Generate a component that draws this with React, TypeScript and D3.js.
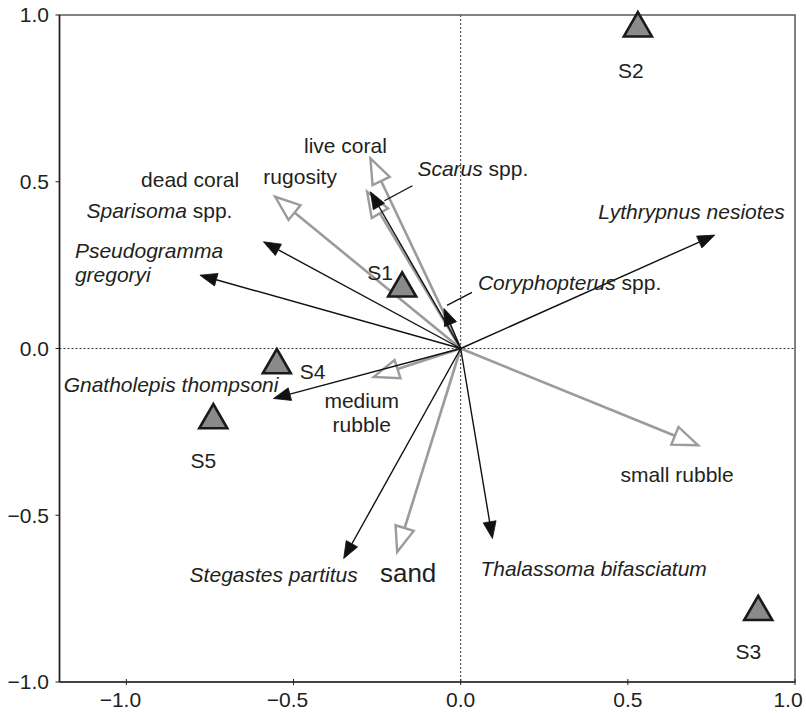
import React from "react";
import * as d3 from "d3";

// ---- data ----
const xTicks = [-1.0, -0.5, 0.0, 0.5, 1.0];
const yTicks = [-1.0, -0.5, 0.0, 0.5, 1.0];

const siteNames = ["S1", "S2", "S3", "S4", "S5"];
const siteX = [-0.175, 0.53, 0.89, -0.55, -0.74];
const siteY = [0.18, 0.96, -0.79, -0.05, -0.215];

const envNames = ["live coral", "dead coral", "rugosity", "medium rubble", "small rubble", "sand"];
const envX = [-0.27, -0.28, -0.555, -0.26, 0.71, -0.19];
const envY = [0.57, 0.47, 0.455, -0.085, -0.29, -0.61];

const spNames = [
  "Scarus spp.",
  "Sparisoma spp.",
  "Pseudogramma gregoryi",
  "Coryphopterus spp.",
  "Lythrypnus nesiotes",
  "Gnatholepis thompsoni",
  "Stegastes partitus",
  "Thalassoma bifasciatum",
];
const spX = [-0.27, -0.59, -0.78, -0.05, 0.76, -0.56, -0.35, 0.095];
const spY = [0.47, 0.32, 0.22, 0.12, 0.34, -0.15, -0.63, -0.57];

// ---- label layout (pixel offsets from the mark) ----
type Part = { t: string; i?: boolean };
type Lab = { lines: Part[][]; anchor: string; dx: number; dy: number; size?: number };

const envLabels: Lab[] = [
  { lines: [[{ t: "live coral" }]], anchor: "middle", dx: -25, dy: -5 },
  { lines: [[{ t: "dead coral" }]], anchor: "middle", dx: -177, dy: -5 },
  { lines: [[{ t: "rugosity" }]], anchor: "middle", dx: 25, dy: -13 },
  { lines: [[{ t: "medium" }], [{ t: "rubble" }]], anchor: "middle", dx: -12, dy: 31 },
  { lines: [[{ t: "small rubble" }]], anchor: "middle", dx: -21, dy: 37 },
  { lines: [[{ t: "sand" }]], anchor: "middle", dx: 11, dy: 30, size: 26 },
];

const spLabels: Lab[] = [
  { lines: [[{ t: "Scarus", i: true }, { t: " spp." }]], anchor: "start", dx: 47, dy: -16 },
  { lines: [[{ t: "Sparisoma", i: true }, { t: " spp." }]], anchor: "end", dx: -31, dy: -24 },
  { lines: [[{ t: "Pseudogramma", i: true }], [{ t: "gregoryi", i: true }]], anchor: "start", dx: -125, dy: -17 },
  { lines: [[{ t: "Coryphopterus", i: true }, { t: " spp." }]], anchor: "start", dx: 34, dy: -18 },
  { lines: [[{ t: "Lythrypnus nesiotes", i: true }]], anchor: "end", dx: 70, dy: -16 },
  { lines: [[{ t: "Gnatholepis thompsoni", i: true }]], anchor: "end", dx: 5, dy: -7 },
  { lines: [[{ t: "Stegastes partitus", i: true }]], anchor: "middle", dx: -70, dy: 23 },
  { lines: [[{ t: "Thalassoma bifasciatum", i: true }]], anchor: "start", dx: -12, dy: 37 },
];

const siteLabels = [
  { dx: -22, dy: -8, anchor: "middle" },
  { dx: -7, dy: 50, anchor: "middle" },
  { dx: -10, dy: 47, anchor: "middle" },
  { dx: 23, dy: 14, anchor: "start" },
  { dx: -10, dy: 48, anchor: "middle" },
];

// leader lines (offsets from species arrow tip): [x1,y1,x2,y2]
const leaders: Record<number, number[]> = {
  0: [42, -6, 14, 9],
  3: [28, -16, 3, -3],
};

const W = 806;
const H = 713;
const FONT = "'Liberation Sans', Arial, Helvetica, sans-serif";
const FS = 21;
const TXT = "#231f20";

const x = d3.scaleLinear().domain([-1.2, 1.0]).range([59.5, 795]);
const y = d3.scaleLinear().domain([-1.0, 1.0]).range([682, 15]);

function fmt(v: number) {
  const s = Math.abs(v).toFixed(1);
  return v < 0 ? "\u2212" + s : s;
}

function arrow(x0: number, y0: number, x1: number, y1: number, len: number, hw: number) {
  const ang = Math.atan2(y1 - y0, x1 - x0);
  const bx = x1 - len * Math.cos(ang);
  const by = y1 - len * Math.sin(ang);
  const px = -Math.sin(ang) * hw;
  const py = Math.cos(ang) * hw;
  const head = `M${x1},${y1}L${bx + px},${by + py}L${bx - px},${by - py}Z`;
  return { bx, by, head };
}

function Label({ lab, px, py }: { lab: Lab; px: number; py: number }) {
  const size = lab.size ?? FS;
  return (
    <text
      x={px + lab.dx}
      y={py + lab.dy}
      textAnchor={lab.anchor as any}
      fontSize={size}
      fontFamily={FONT}
      fill={TXT}
    >
      {lab.lines.map((line, li) => (
        <tspan key={li} x={px + lab.dx} dy={li === 0 ? 0 : 24}>
          {line.map((p, pi) => (
            <tspan key={pi} fontStyle={p.i ? "italic" : "normal"}>
              {p.t}
            </tspan>
          ))}
        </tspan>
      ))}
    </text>
  );
}

export default function App() {
  const ox = x(0);
  const oy = y(0);
  const [x0, x1] = x.range();
  const [yb, yt] = y.range();

  const triPath = d3.symbol().type(d3.symbolTriangle).size(340)();

  return (
    <svg
      width={W}
      height={H}
      style={{ position: "absolute", left: 0, top: 0, background: "#fff" }}
      fontFamily={FONT}
    >
      <rect x={0} y={0} width={W} height={H} fill="#fff" />
      {/* zero lines */}
      <line x1={ox} x2={ox} y1={yt} y2={yb} stroke="#333" strokeWidth={1} strokeDasharray="2,2" />
      <line x1={x0} x2={x1} y1={oy} y2={oy} stroke="#333" strokeWidth={1} strokeDasharray="2,2" />

      {/* frame */}
      <rect x={x0} y={yt} width={x1 - x0} height={yb - yt} fill="none" stroke="#5a5a5a" strokeWidth={1.5} />
      <line x1={x0} x2={x0} y1={yt} y2={yb} stroke="#222" strokeWidth={1.5} />
      <line x1={x0} x2={x1} y1={yb} y2={yb} stroke="#444" strokeWidth={1.8} />

      {/* ticks */}
      {yTicks.map((t) => (
        <g key={"y" + t}>
          <line x1={x0 - 4} x2={x0} y1={y(t)} y2={y(t)} stroke="#222" strokeWidth={1} />
          <text x={49} y={y(t)} dy="0.35em" textAnchor="end" fontSize={FS} fill={TXT}>
            {fmt(t)}
          </text>
        </g>
      ))}
      {xTicks.map((t) => (
        <g key={"x" + t}>
          <line x1={x(t)} x2={x(t)} y1={yb - 3} y2={yb + 3} stroke="#222" strokeWidth={1} />
          <text
            x={Math.min(x(t), W - 18)}
            y={707}
            textAnchor="middle"
            fontSize={FS}
            fill={TXT}
            dx={t < 0 ? -6 : 0}
          >
            {fmt(t)}
          </text>
        </g>
      ))}

      {/* environmental arrows (grey, open heads) */}
      {envNames.map((n, i) => {
        const tx = x(envX[i]);
        const ty = y(envY[i]);
        const a = arrow(ox, oy, tx, ty, 25, 9.5);
        return (
          <g key={n}>
            <line x1={ox} y1={oy} x2={a.bx} y2={a.by} stroke="#9b9b9b" strokeWidth={2.6} />
            <path d={a.head} fill="#fff" stroke="#9b9b9b" strokeWidth={2.4} strokeLinejoin="miter" />
          </g>
        );
      })}

      {/* species arrows (black, filled heads) */}
      {spNames.map((n, i) => {
        const tx = x(spX[i]);
        const ty = y(spY[i]);
        const a = arrow(ox, oy, tx, ty, 17, 6.5);
        const l = leaders[i];
        return (
          <g key={n}>
            <line x1={ox} y1={oy} x2={a.bx} y2={a.by} stroke="#111" strokeWidth={1.4} />
            <path d={a.head} fill="#111" stroke="#111" strokeWidth={0.8} />
            {l && (
              <line x1={tx + l[0]} y1={ty + l[1]} x2={tx + l[2]} y2={ty + l[3]} stroke="#111" strokeWidth={1.4} />
            )}
          </g>
        );
      })}

      {/* sites */}
      {siteNames.map((n, i) => {
        const px = x(siteX[i]);
        const py = y(siteY[i]);
        const sl = siteLabels[i];
        return (
          <g key={n}>
            <path d={triPath} transform={`translate(${px},${py})`} fill="#8a8a8a" stroke="#1a1a1a" strokeWidth={2.6} strokeLinejoin="miter" />
            <text x={px + sl.dx} y={py + sl.dy} textAnchor={sl.anchor as any} fontSize={FS} fill={TXT}>
              {n}
            </text>
          </g>
        );
      })}

      {/* labels */}
      {envLabels.map((lab, i) => (
        <Label key={"el" + i} lab={lab} px={x(envX[i])} py={y(envY[i])} />
      ))}
      {spLabels.map((lab, i) => (
        <Label key={"sl" + i} lab={lab} px={x(spX[i])} py={y(spY[i])} />
      ))}
    </svg>
  );
}
